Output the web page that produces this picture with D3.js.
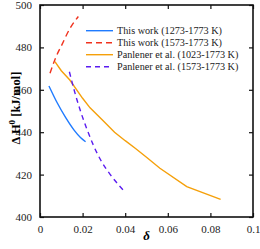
<!DOCTYPE html>
<html><head><meta charset="utf-8">
<script src="https://cdn.jsdelivr.net/npm/d3@7"></script>
<style>body{margin:0;background:#fff}svg{display:block}text{font-family:"Liberation Serif","Times New Roman",serif}</style>
</head><body>
<script>
const xTicks = [0, 0.02, 0.04, 0.06, 0.08, 0.1];
const xTickLabels = ["0", "0.02", "0.04", "0.06", "0.08", "0.1"];
const yTicks = [400, 420, 440, 460, 480, 500];
const seriesNames = ["This work (1273-1773 K)", "This work (1573-1773 K)", "Panlener et al. (1023-1773 K)", "Panlener et al. (1573-1773 K)"];
const blueX = [0.0042, 0.008, 0.012, 0.016, 0.019, 0.0214];
const blueY = [461.8, 454, 447, 441, 437.5, 435.5];
const redX = [0.0047, 0.0075, 0.0102, 0.0141, 0.018];
const redY = [467.8, 475.5, 481.1, 489, 494.6];
const orangeX = [0.007, 0.010, 0.014, 0.020, 0.0235, 0.030, 0.035, 0.040, 0.045, 0.050, 0.0563, 0.0689, 0.0848];
const orangeY = [473.3, 469, 464.6, 456, 451.5, 445, 440, 436, 432.2, 428.2, 423, 414.3, 408.3];
const purpleX = [0.0138, 0.016, 0.019, 0.022, 0.025, 0.029, 0.033, 0.037, 0.0402];
const purpleY = [468.5, 460, 450, 441.5, 434, 426, 420, 415, 411.5];

const W = 260, H = 249;
const m = {l: 40, r: 253, t: 5, b: 217};
const svg = d3.select("body").append("svg").attr("width", W).attr("height", H);
const x = d3.scaleLinear().domain([0, 0.1]).range([m.l, m.r]);
const y = d3.scaleLinear().domain([400, 500]).range([m.b, m.t]);

const series = [
  {xs: blueX, ys: blueY, color: "#1f7bff", dash: null, curve: d3.curveMonotoneX},
  {xs: redX, ys: redY, color: "#f0321e", dash: "6,4", curve: d3.curveMonotoneX},
  {xs: orangeX, ys: orangeY, color: "#f5a00a", dash: null, curve: d3.curveLinear},
  {xs: purpleX, ys: purpleY, color: "#5b1cf0", dash: "5,4", curve: d3.curveMonotoneX}
];

const line = c => d3.line().x(d => x(d[0])).y(d => y(d[1])).curve(c);
series.forEach(s => {
  const pts = s.xs.map((v, i) => [v, s.ys[i]]);
  svg.append("path").attr("d", line(s.curve)(pts)).attr("fill", "none")
    .attr("stroke", s.color).attr("stroke-width", 1.4)
    .attr("stroke-dasharray", s.dash);
});

// axes
const ax = svg.append("g");
ax.append("g").attr("transform", `translate(0,${m.b})`)
  .call(d3.axisBottom(x).tickValues(xTicks).tickFormat((d, i) => xTickLabels[i]).tickSizeInner(-4).tickSizeOuter(0).tickPadding(8));
ax.append("g").attr("transform", `translate(0,${m.t})`)
  .call(d3.axisTop(x).tickValues(xTicks).tickFormat("").tickSizeInner(-4).tickSizeOuter(0));
ax.append("g").attr("transform", `translate(${m.l},0)`)
  .call(d3.axisLeft(y).tickValues(yTicks).tickSizeInner(-4).tickSizeOuter(0).tickPadding(8));
ax.append("g").attr("transform", `translate(${m.r},0)`)
  .call(d3.axisRight(y).tickValues(yTicks).tickFormat("").tickSizeInner(-4).tickSizeOuter(0));
ax.selectAll(".domain").remove();
ax.selectAll("line").attr("stroke", "#111").attr("stroke-width", 1.2);
ax.selectAll("text").attr("font-size", 11).attr("fill", "#222")
  .style("font-family", '"Liberation Serif", serif');
svg.append("rect").attr("x", m.l).attr("y", m.t).attr("width", m.r - m.l).attr("height", m.b - m.t)
  .attr("fill", "none").attr("stroke", "#111").attr("stroke-width", 1.6);

// axis titles
svg.append("text").attr("x", (m.l + m.r) / 2).attr("y", 240).attr("text-anchor", "middle")
  .attr("font-size", 13).attr("font-style", "italic").attr("font-weight", "bold").text("δ");
const yt = svg.append("text").attr("transform", `translate(20,108) rotate(-90)`)
  .attr("text-anchor", "middle").attr("font-size", 12.5).attr("font-weight", "bold");
yt.append("tspan").text("Δ H");
yt.append("tspan").attr("dy", -5).attr("font-size", 9).text("0");
yt.append("tspan").attr("dy", 5).text(" [kJ/mol]");

// legend
const lg = svg.append("g");
series.forEach((s, i) => {
  const yy = 30.7 + i * 12;
  lg.append("line").attr("x1", 86).attr("x2", 113).attr("y1", yy).attr("y2", yy)
    .attr("stroke", s.color).attr("stroke-width", 1.4).attr("stroke-dasharray", s.dash);
  lg.append("text").attr("x", 117).attr("y", yy + 3.6).attr("font-size", 10.2).attr("fill", "#222").text(seriesNames[i]);
});
</script>
</body></html>
